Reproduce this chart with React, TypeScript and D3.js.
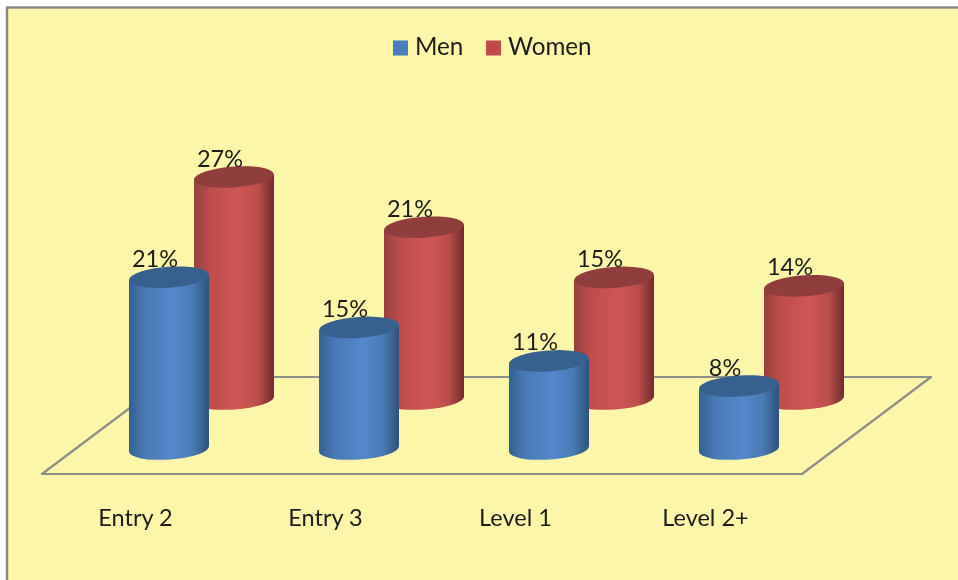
import React from "react";
import * as d3 from "d3";

const categories = ["Entry 2", "Entry 3", "Level 1", "Level 2+"];
const men = [21, 15, 11, 8];
const women = [27, 21, 15, 14];
const seriesNames = ["Men", "Women"];

const W = 958;
const H = 580;
const CYL_W = 80;
const RX = 40;
const RY = 10.5;
const TILT = -4;

const xBand = d3.scaleBand<string>().domain(categories).range([129, 889]);
const xSeries = d3.scaleOrdinal<string, number>().domain(seriesNames).range([0, 65]);
const heightScale = d3.scaleLinear().domain([0, 27]).range([-4, 222]);
const baseY: Record<string, number> = { Men: 449, Women: 399 };

const palette: Record<string, { dark: string; mid: string; light: string; edge: string; top: string; swatch: string }> = {
  Men: { dark: "#33608f", mid: "#4a7ab5", light: "#5488cb", edge: "#2c5278", top: "#38618f", swatch: "#4a7ebb" },
  Women: { dark: "#95403e", mid: "#bc4e4c", light: "#cf5654", edge: "#6f2c2b", top: "#8f3e3c", swatch: "#be4b48" },
};

const FONT = "Lato, Carlito, 'Open Sans', sans-serif";

function Cylinder({ name, cat, value }: { name: string; cat: string; value: number }) {
  const left = (xBand(cat) as number) + xSeries(name);
  const right = left + CYL_W;
  const cx = left + RX;
  const by = baseY[name];
  const ty = by - heightScale(value);
  const dy = RX * Math.sin((-TILT * Math.PI) / 180);
  const side = `M${left},${ty + dy} L${left},${by + dy} A${RX},${RY} ${TILT} 0 0 ${right},${by - dy} L${right},${ty - dy} Z`;
  return (
    <g>
      <path d={side} fill={`url(#grad-${name})`} />
      <ellipse cx={cx} cy={ty} rx={RX} ry={RY} transform={`rotate(${TILT} ${cx} ${ty})`} fill={palette[name].top} />
    </g>
  );
}

export default function App() {
  const floor = "M42,474 L802,474 L931,377 L171,377 Z";
  return (
    <svg width={W} height={H} style={{ position: "absolute", left: 0, top: 0, display: "block" }}>
      <defs>
        {seriesNames.map((n) => (
          <linearGradient key={n} id={`grad-${n}`} x1="0" x2="1" y1="0" y2="0">
            <stop offset="0" stopColor={palette[n].dark} />
            <stop offset="0.2" stopColor={palette[n].mid} />
            <stop offset="0.55" stopColor={palette[n].light} />
            <stop offset="0.8" stopColor={palette[n].mid} />
            <stop offset="1" stopColor={palette[n].edge} />
          </linearGradient>
        ))}
        <filter id="soft" x="-5%" y="-5%" width="110%" height="110%">
          <feGaussianBlur stdDeviation="0.7" />
        </filter>
      </defs>
      <rect x={0} y={0} width={W} height={H} fill="#ffffff" />
      <g filter="url(#soft)">
        <rect x={7} y={7.5} width={W + 10} height={H + 10} fill="#fbf6a9" stroke="#858585" strokeWidth={2.4} />
        <path d={floor} fill="none" stroke="#8e8f88" strokeWidth={2.2} strokeLinejoin="round" />
        {categories.map((c, i) => (
          <g key={c}>
            <Cylinder name="Women" cat={c} value={women[i]} />
            <Cylinder name="Men" cat={c} value={men[i]} />
          </g>
        ))}
        <g fontFamily={FONT} fontSize={23.5} fill="#1c1c1c" textAnchor="middle">
          {categories.map((c, i) => {
            const l = xBand(c) as number;
            return (
              <g key={c}>
                <text x={l + xSeries("Men") + RX - 14} y={baseY.Men - heightScale(men[i]) - 10.5}>{men[i]}%</text>
                <text x={l + xSeries("Women") + RX - 14} y={baseY.Women - heightScale(women[i]) - 10.5}>{women[i]}%</text>
                <text x={l + 6.5} y={526}>{c}</text>
              </g>
            );
          })}
        </g>
        <g fontFamily={FONT} fontSize={24.2} fill="#1c1c1c">
          <rect x={393} y={40.5} width={15} height={15} fill={palette.Men.swatch} />
          <text x={415} y={55}>{seriesNames[0]}</text>
          <rect x={486} y={40.5} width={15} height={15} fill={palette.Women.swatch} />
          <text x={508} y={55}>{seriesNames[1]}</text>
        </g>
      </g>
    </svg>
  );
}
